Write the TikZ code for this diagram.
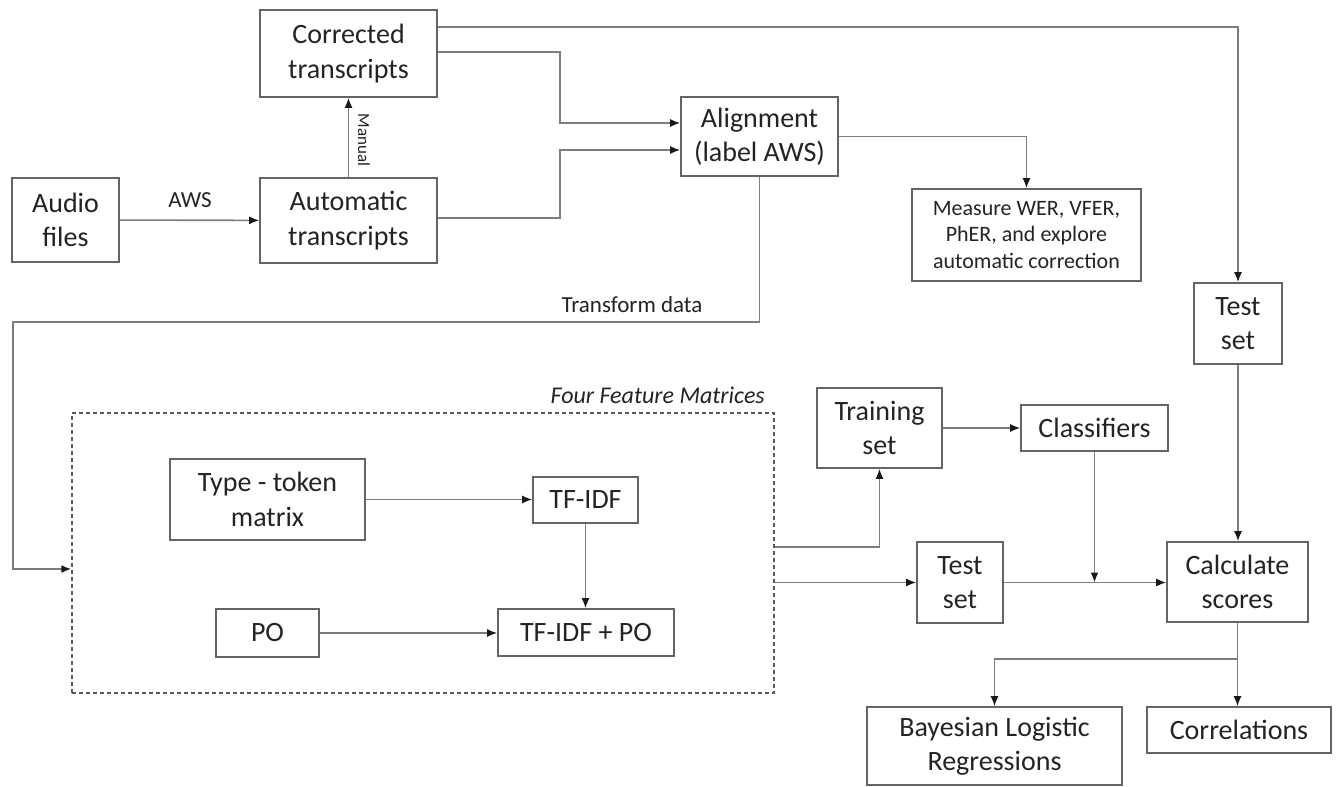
\documentclass[tikz,border=0pt]{standalone}
\usepackage{fontspec}
\setmainfont{Carlito}
\usetikzlibrary{arrows.meta}
\definecolor{linec}{RGB}{125,125,125}
\definecolor{boxc}{RGB}{100,100,100}
\definecolor{txtc}{RGB}{35,35,35}
\definecolor{tipc}{RGB}{25,25,25}
\tikzset{
  box/.style={draw=boxc, line width=1.6pt, inner sep=0pt, align=center,
    text=txtc, font=\fontsize{28}{34.5}\selectfont},
  smallbox/.style={box, font=\fontsize{22}{26.5}\selectfont},
  framebox/.style={draw=boxc!90!black, line width=1.4pt, dash pattern=on 4pt off 3pt, inner sep=0pt},
  conn/.style={draw=linec, line width=1.6pt,
    -{Latex[length=10pt,width=8pt,color=tipc]}},
  lbl/.style={text=txtc, font=\fontsize{23}{27}\selectfont, inner sep=0pt}
}
\begin{document}
\begin{tikzpicture}[x=1pt,y=-1pt]
\useasboundingbox (0,0) rectangle (1339,787);

% --- transcription stage ---
\node[box, minimum width=107pt, minimum height=84pt] (audio) at (65.5,220) {Audio\\files};
\node[box, minimum width=177pt, minimum height=87pt] (corr) at (348.5,53.5) {Corrected\\transcripts};
\node[box, minimum width=177pt, minimum height=85pt] (auto) at (348.5,220.5) {Automatic\\transcripts};
\node[box, minimum width=157pt, minimum height=79pt] (align) at (759.5,136.5) {Alignment\\(label AWS)};
\node[smallbox, minimum width=229pt, minimum height=92pt] (measure) at (1026.5,235) {Measure WER, VFER,\\PhER, and explore\\automatic correction};
\node[box, minimum width=88pt, minimum height=81pt] (test1) at (1238,323.5) {Test\\set};

% --- feature matrices ---
\node[framebox, minimum width=702pt, minimum height=280pt] (fm) at (423,553) {};
\node[text=txtc, font=\fontsize{24}{28}\selectfont\itshape, inner sep=0pt, anchor=base east] (fmlabel) at (765,403) {Four Feature Matrices};
\node[box, minimum width=195pt, minimum height=81pt] (ttm) at (267.5,499.5) {Type - token\\matrix};
\node[box, minimum width=105pt, minimum height=46pt] (tfidf) at (585.5,500) {TF-IDF};
\node[box, minimum width=103pt, minimum height=48pt] (po) at (267.5,633) {PO};
\node[box, minimum width=176pt, minimum height=47pt] (tfpo) at (586,632.5) {TF-IDF + PO};

% --- modelling stage ---
\node[box, minimum width=125pt, minimum height=80pt] (train) at (879.5,428) {Training\\set};
\node[box, minimum width=147pt, minimum height=46pt] (clf) at (1094.5,428) {Classifiers};
\node[box, minimum width=86pt, minimum height=81pt] (test2) at (960,582.5) {Test\\set};
\node[box, minimum width=141pt, minimum height=80pt] (calc) at (1237.5,582) {Calculate\\scores};
\node[box, minimum width=255pt, minimum height=78pt] (bayes) at (994.5,746) {Bayesian Logistic\\Regressions};
\node[box, minimum width=184pt, minimum height=46pt] (corrl) at (1239,730) {Correlations};

% --- connectors ---
\draw[conn] (audio) -- (auto);
\node[lbl] (awslbl) at (190,200) {AWS};
\draw[conn] (auto.north) -- (corr.south);
\node[lbl, font=\fontsize{17}{20}\selectfont, rotate=-90] (manlbl) at (364,140) {Manual};

\draw[conn] ([yshift=1.5pt]corr.east) -- ++(122,0) |- ([yshift=13.5pt]align.west);
\draw[conn] ([yshift=2.5pt]auto.east) -- ++(122,0) |- ([yshift=-13.5pt]align.west);
\draw[conn] ([yshift=26.5pt]corr.east) -| (test1.north);
\draw[conn] (align.east) -| (measure.north);

\coordinate (tbend) at (13,322);
\draw[conn] (align.south) |- (tbend) |- ([yshift=-16pt]fm.west);
\node[lbl] (tdlbl) at (632,305) {Transform data};

\draw[conn] (ttm.east) -- (tfidf.west |- ttm.east);
\draw[conn] (tfidf.south) -- (tfidf.south |- tfpo.north);
\draw[conn] (po.east) -- (tfpo.west |- po.east);

\draw[conn] ([yshift=6pt]fm.east) -| (train.south);
\draw[conn] (fm.east |- test2.west) -- (test2.west);
\draw[conn] (train.east) -- (clf.west);
\draw[conn] (test2.east) -- (test2.east -| calc.west);
\draw[conn] (clf.south) -- (clf.south |- test2.east);
\draw[conn] (test1.south) -- (test1.south |- calc.north);

\draw[conn] (calc.south) -- ++(0,36) -| (bayes.north);
\draw[conn] (calc.south) -- (calc.south |- corrl.north);
\end{tikzpicture}
\end{document}
